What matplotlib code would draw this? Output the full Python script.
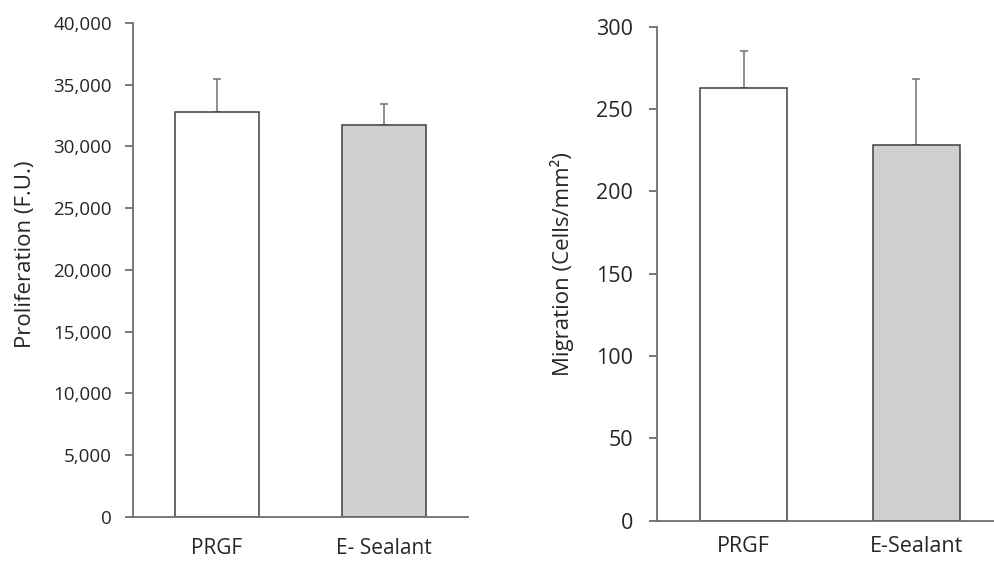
import matplotlib
matplotlib.use('Agg')
import matplotlib.pyplot as plt
import matplotlib.ticker as mticker

plt.rcParams['font.family'] = ['Open Sans', 'DejaVu Sans']

# proliferation panel
prolif_groups = ['PRGF', 'E- Sealant']
prolif_means = [32800, 31700]
prolif_err = [2650, 1700]

# migration panel
migr_groups = ['PRGF', 'E-Sealant']
migr_means = [263, 228]
migr_err = [22.5, 40]

bar_colors = ['white', '#d0d0d0']
text_col = '#262626'
axis_col = '#6e6e6e'


def draw_panel(ax, groups, means, errs, ymax, ystep, ylabel, fs_y, fs_x, ypad, xpad):
    x = range(len(groups))
    ax.bar(x, means, width=0.5, color=bar_colors, edgecolor='#404040',
           linewidth=1.1, zorder=2)
    # only the upper half of the error bar is shown
    ax.errorbar(x, means, yerr=[[0] * len(errs), errs], fmt='none',
                ecolor='#707070', elinewidth=1.1, capsize=2.6, capthick=1.1,
                zorder=1)
    ax.set_xlim(-0.5, len(groups) - 0.5)
    ax.set_ylim(0, ymax)
    ax.yaxis.set_major_locator(mticker.MultipleLocator(ystep))
    ax.set_xticks(list(x))
    ax.set_xticklabels(groups)
    for s in ['top', 'right']:
        ax.spines[s].set_visible(False)
    for s in ['left', 'bottom']:
        ax.spines[s].set_color(axis_col)
        ax.spines[s].set_linewidth(1.3)
    ax.tick_params(axis='y', direction='out', length=5.8, width=1.3,
                   color=axis_col, labelsize=fs_y, labelcolor=text_col, pad=ypad)
    ax.tick_params(axis='x', length=0, labelsize=fs_x, labelcolor=text_col, pad=xpad)
    ax.set_ylabel(ylabel, fontsize=16, color=text_col)


fig = plt.figure(figsize=(9.94, 5.67), dpi=100)
ax1 = fig.add_axes([0.1338, 0.0882, 0.337, 0.8713])
ax2 = fig.add_axes([0.661, 0.082, 0.348, 0.871])   # runs past the right edge, like the source

draw_panel(ax1, prolif_groups, prolif_means, prolif_err, 40000, 5000,
           'Proliferation (F.U.)', 13.5, 15, 9.4, 15)
ax1.yaxis.set_major_formatter(mticker.StrMethodFormatter('{x:,.0f}'))
ax1.yaxis.set_label_coords(-0.29, 0.532)

draw_panel(ax2, migr_groups, migr_means, migr_err, 300, 50,
           'Migration (Cells/mm²)', 15.5, 15.5, 11.5, 11)
ax2.yaxis.set_label_coords(-0.24, 0.52)

plt.savefig('out.png', dpi=100)
